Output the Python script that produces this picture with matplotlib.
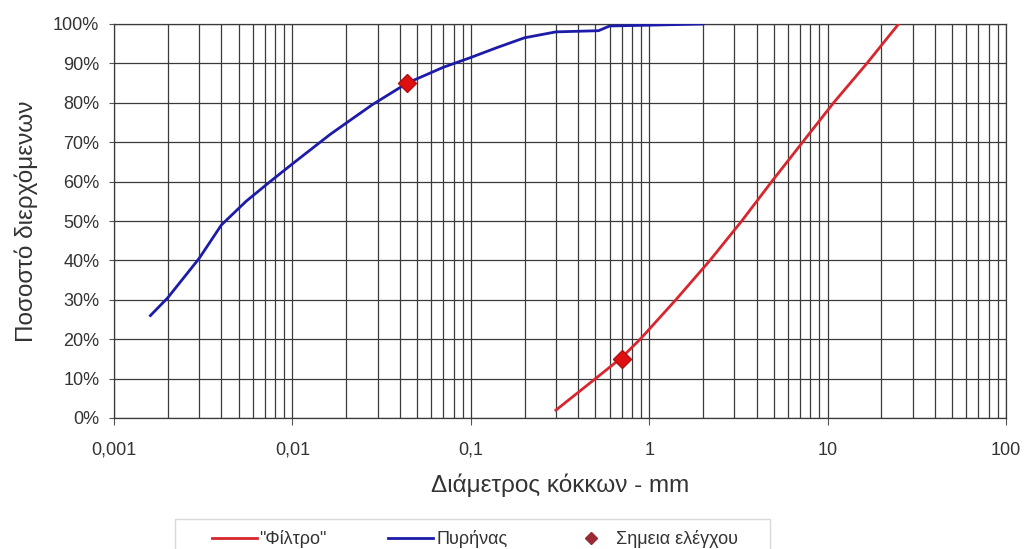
import matplotlib
matplotlib.use('Agg')
import matplotlib.pyplot as plt
from matplotlib.patches import Rectangle
from matplotlib.ticker import FixedLocator, FixedFormatter, NullFormatter

plt.rcParams['font.family'] = ['Liberation Sans', 'DejaVu Sans']

# grading curve of the filter material (mm, % passing)
filterSize = [0.3, 0.5, 0.7, 0.89, 1.41, 2.19, 3.3, 4.86, 7.24, 10.8, 16.6, 25]
filterPass = [2, 10, 15.3, 20, 30, 40, 50, 60, 70, 80, 90, 100]

# grading curve of the core material
coreSize = [0.0016, 0.002, 0.003, 0.004, 0.0055, 0.0075, 0.01, 0.0163, 0.028,
            0.044, 0.07, 0.1, 0.14, 0.2, 0.3, 0.52, 0.6, 1.0, 2.0]
corePass = [26, 30.5, 40.5, 49, 55, 60, 64.5, 72, 79.5,
            85, 89, 91.5, 94, 96.5, 98, 98.3, 99.5, 99.7, 100]

# check points
checkSize = [0.044, 0.7]
checkPass = [85, 15]

xTicks = [0.001, 0.01, 0.1, 1, 10, 100]
xTickLabels = ['0,001', '0,01', '0,1', '1', '10', '100']
yTicks = list(range(0, 101, 10))
yTickLabels = ['%d%%' % v for v in yTicks]

fig = plt.figure(figsize=(10.25, 5.49), dpi=100)
ax = fig.add_axes([114 / 1025, 1 - 418 / 549, 892 / 1025, 394 / 549])

ax.plot(filterSize, filterPass, color='#d8262e', linewidth=2, label='"Φίλτρο"', zorder=3)
ax.plot(coreSize, corePass, color='#1c1ca8', linewidth=2, label='Πυρήνας', zorder=3)
ax.plot(checkSize, checkPass, linestyle='none', marker='D', markersize=9,
        markerfacecolor='#e01010', markeredgecolor='#b01010', zorder=4)
# small dark marker used only for the legend entry
ax.plot([], [], linestyle='none', marker='D', markersize=6,
        color='#9a2a35', label='Σημεια ελέγχου')

ax.set_xscale('log')
ax.set_xlim(0.001, 100)
ax.set_ylim(0, 100)

ax.xaxis.set_major_locator(FixedLocator(xTicks))
ax.xaxis.set_major_formatter(FixedFormatter(xTickLabels))
ax.xaxis.set_minor_formatter(NullFormatter())
ax.yaxis.set_major_locator(FixedLocator(yTicks))
ax.yaxis.set_major_formatter(FixedFormatter(yTickLabels))

ax.grid(True, which='both', axis='x', color='#3a3a3a', linewidth=0.9)
ax.grid(True, which='major', axis='y', color='#3a3a3a', linewidth=0.9)
ax.tick_params(axis='x', which='minor', length=0)
ax.tick_params(axis='x', which='major', length=5, pad=12)
ax.tick_params(axis='y', which='major', length=3.6, pad=7)
ax.tick_params(axis='both', which='major', color='#555555',
               labelsize=13, labelcolor='#333333')
for side in ax.spines.values():
    side.set_color('#3a3a3a')
    side.set_linewidth(0.9)

ax.set_xlabel('Διάμετρος κόκκων - mm', fontsize=17.5, color='#333333', labelpad=11)
ax.set_ylabel('Ποσοστό διερχόμενων', fontsize=17.5, color='#333333', labelpad=11)

leg = fig.legend(loc='center', bbox_to_anchor=(475 / 1025, 1 - 539 / 549),
                 ncol=3, frameon=False, fontsize=13, borderpad=0,
                 handlelength=2.5, handletextpad=0.15, columnspacing=3.4)
for t in leg.get_texts():
    t.set_color('#333333')

# legend box, running off the bottom edge
fig.patches.append(Rectangle((175 / 1025, -0.05), 595 / 1025, 0.05 + 1 - 519 / 549,
                             transform=fig.transFigure, fill=False,
                             edgecolor='#d8d8d8', linewidth=1))

fig.savefig('out.png', dpi=100)
